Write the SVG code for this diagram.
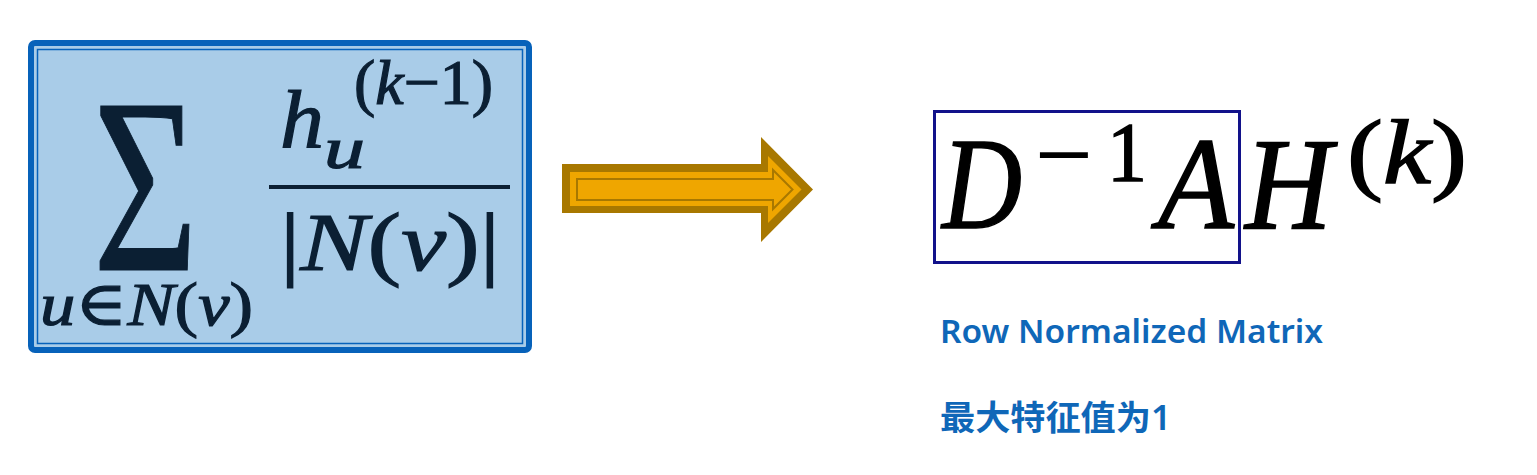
<svg xmlns="http://www.w3.org/2000/svg" width="1537" height="475" viewBox="0 0 1537 475">
<style>
.m{font-family:"Liberation Serif","DejaVu Serif",serif;}
.i{font-style:italic;}
.l{fill:#0B1F33;stroke:#0B1F33;stroke-width:1.2;}
.r{fill:#000000;stroke:#000000;stroke-width:1.5;}
.lab{font-family:"Noto Sans","Noto Sans CJK SC",sans-serif;font-weight:600;fill:#0F67B8;}
</style>
<rect width="1537" height="475" fill="#ffffff"/>
<g id="node-sum">
<rect x="31" y="43" width="498" height="307" rx="4" fill="#A9CCE8" stroke="#0762BA" stroke-width="6"/>
<rect x="37.5" y="49.5" width="485" height="294" fill="none" stroke="#0762BA" stroke-width="1.5"/>
<text class="m l" x="93" y="270" font-size="250" textLength="105" lengthAdjust="spacingAndGlyphs">Σ</text>
<text class="m l" x="40" y="325" font-size="62" textLength="213" lengthAdjust="spacingAndGlyphs"><tspan class="i">u</tspan>∈<tspan class="i">N</tspan>(<tspan class="i">v</tspan>)</text>
<text class="m l i" x="280" y="147" font-size="82" textLength="44" lengthAdjust="spacingAndGlyphs">h</text>
<text class="m l i" x="324" y="168" font-size="60" textLength="41" lengthAdjust="spacingAndGlyphs">u</text>
<text class="m l" x="354" y="104" font-size="64" textLength="139" lengthAdjust="spacingAndGlyphs">(<tspan class="i">k</tspan>−1)</text>
<line x1="269" y1="187" x2="510" y2="187" stroke="#0B1F33" stroke-width="4"/>
<text class="m l" x="280" y="270" font-size="82" textLength="220" lengthAdjust="spacingAndGlyphs">|<tspan class="i">N</tspan>(<tspan class="i">v</tspan>)|</text>
</g>
<g id="connectors">
<polygon points="562,164 761,164 761,137 813,189.5 761,242 761,213 562,213" fill="#A87800"/>
<polygon points="570,172 768,172 768,156 801.5,189.5 768,223 768,206 570,206" fill="#EFA600"/>
<polygon points="577,179 773,179 773,170 792.5,189.5 773,209 773,200 577,200" fill="#EFA600" stroke="#A87800" stroke-width="2"/>
</g>
<g id="node-formula">
<rect x="934.5" y="111.5" width="305" height="151" fill="none" stroke="#12128A" stroke-width="3"/>
<text class="m r i" x="942" y="228" font-size="132" textLength="80" lengthAdjust="spacingAndGlyphs">D</text>
<text class="m r" x="1036" y="183" font-size="84" textLength="56" lengthAdjust="spacingAndGlyphs">−</text>
<text class="m r" x="1107" y="181" font-size="84" textLength="40" lengthAdjust="spacingAndGlyphs">1</text>
<text class="m r i" x="1158" y="228" font-size="132" textLength="76" lengthAdjust="spacingAndGlyphs">A</text>
<text class="m r i" x="1245" y="228" font-size="132" textLength="87" lengthAdjust="spacingAndGlyphs">H</text>
<text class="m r" x="1347" y="183" font-size="92" textLength="120" lengthAdjust="spacingAndGlyphs">(<tspan class="i">k</tspan>)</text>
</g>
<g id="label-row">
<text class="lab" x="940" y="343" font-size="33" textLength="383" lengthAdjust="spacingAndGlyphs">Row Normalized Matrix</text>
</g>
<g id="label-eig">
<text class="lab" x="940" y="430" font-size="34" textLength="231" lengthAdjust="spacingAndGlyphs">最大特征值为1</text>
</g>
</svg>
